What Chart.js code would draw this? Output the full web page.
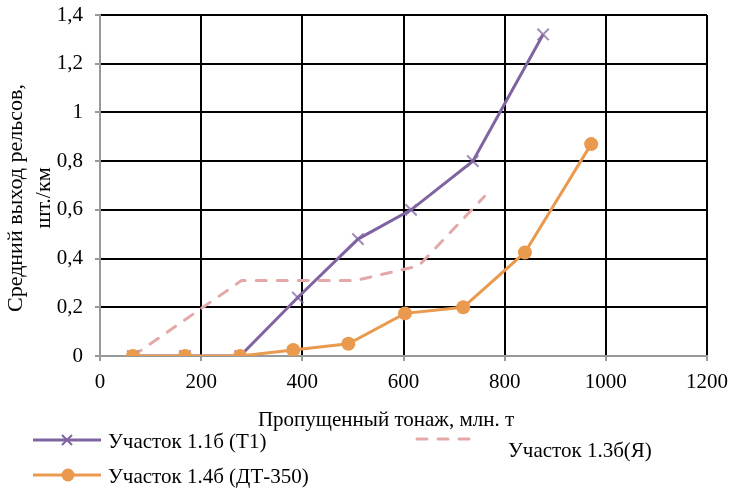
<!DOCTYPE html>
<html>
<head>
<meta charset="utf-8">
<script src="https://cdn.jsdelivr.net/npm/chart.js@4/dist/chart.umd.min.js"></script>
<style>
  body { margin: 0; background: #fff; }
  #wrap { width: 730px; height: 488px; position: relative; }
</style>
</head>
<body>
<div id="wrap"><canvas id="chart" width="730" height="488"></canvas></div>
<script>
// Участок 1.1б (Т1)
const t1X = [65, 168, 277, 391, 510, 615, 737, 876];
const t1Y = [0, 0, 0, 0.24, 0.48, 0.6, 0.8, 1.32];
// Участок 1.4б (ДТ-350)
const dtX = [65, 168, 277, 382, 491, 603, 718, 840, 971];
const dtY = [0, 0, 0, 0.025, 0.05, 0.175, 0.2, 0.425, 0.87];
// Участок 1.3б(Я)
const yaX = [65, 280, 505, 630, 760];
const yaY = [0, 0.31, 0.31, 0.37, 0.655];

const xTicks = [0, 200, 400, 600, 800, 1000, 1200];
const yTicks = [0, 0.2, 0.4, 0.6, 0.8, 1, 1.2, 1.4];

const names = ["Участок 1.1б (Т1)", "Участок 1.4б (ДТ-350)", "Участок 1.3б(Я)"];
const xTitle = "Пропущенный тонаж, млн. т";
const yTitle = ["Средний выход рельсов,", "шт./км"];

const PURPLE = "#8064a2";
const ORANGE = "#e99a4e";
const PINK = "#e3a9a8";
const FAMILY = "'Liberation Serif', 'Times New Roman', serif";
const FONT = "21px " + FAMILY;

const toPts = (xs, ys) => xs.map((x, i) => ({ x: x, y: ys[i] }));

// titles and the odd legend layout are drawn by hand
const extras = {
  id: "extras",
  afterDraw(chart) {
    const ctx = chart.ctx;
    ctx.save();
    ctx.fillStyle = "#000";
    ctx.font = FONT;
    ctx.textBaseline = "middle";

    ctx.textAlign = "center";
    ctx.fillText(xTitle, 386, 420);

    ctx.save();
    ctx.translate(16, 198);
    ctx.rotate(-Math.PI / 2);
    ctx.font = "22px " + FAMILY;
    ctx.fillText(yTitle[0], 0, 0);
    ctx.fillText(yTitle[1], 0, 28);
    ctx.restore();

    ctx.textAlign = "left";
    // purple
    ctx.lineWidth = 3;
    ctx.strokeStyle = PURPLE;
    ctx.beginPath(); ctx.moveTo(33, 440); ctx.lineTo(101, 440); ctx.stroke();
    ctx.lineWidth = 2;
    ctx.beginPath();
    ctx.moveTo(62, 435); ctx.lineTo(72, 445);
    ctx.moveTo(72, 435); ctx.lineTo(62, 445);
    ctx.stroke();
    ctx.fillText(names[0], 108, 442);
    // orange
    ctx.lineWidth = 3;
    ctx.strokeStyle = ORANGE;
    ctx.fillStyle = ORANGE;
    ctx.beginPath(); ctx.moveTo(33, 475); ctx.lineTo(101, 475); ctx.stroke();
    ctx.beginPath(); ctx.arc(68, 475, 6.5, 0, Math.PI * 2); ctx.fill();
    ctx.fillStyle = "#000";
    ctx.fillText(names[1], 108, 477);
    // pink dashed
    ctx.strokeStyle = PINK;
    ctx.lineCap = "round";
    ctx.setLineDash([10, 11]);
    ctx.beginPath(); ctx.moveTo(417, 439); ctx.lineTo(475, 439); ctx.stroke();
    ctx.setLineDash([]);
    ctx.fillText(names[2], 508, 451);
    ctx.restore();
  }
};

new Chart(document.getElementById("chart"), {
  type: "line",
  data: {
    datasets: [
      {
        label: names[1],
        data: toPts(dtX, dtY),
        borderColor: ORANGE,
        backgroundColor: ORANGE,
        borderWidth: 3,
        pointRadius: 7,
        pointBorderWidth: 0,
        pointBackgroundColor: ORANGE,
        order: 0,
      },
      {
        label: names[0],
        data: toPts(t1X, t1Y),
        borderColor: PURPLE,
        backgroundColor: PURPLE,
        borderWidth: 3,
        pointStyle: "crossRot",
        pointRadius: 8,
        pointBorderWidth: 2,
        pointBorderColor: "rgba(128,100,162,0.75)",
        order: 1,
      },
      {
        label: names[2],
        data: toPts(yaX, yaY),
        borderColor: PINK,
        borderWidth: 3,
        borderDash: [10, 11],
        borderCapStyle: "round",
        pointRadius: 0,
        order: 2,
      },
    ],
  },
  options: {
    responsive: false,
    animation: false,
    events: [],
    layout: { padding: { top: 15, right: 23, left: 0, bottom: 0 } },
    plugins: {
      legend: { display: false },
      tooltip: { enabled: false },
    },
    scales: {
      x: {
        type: "linear",
        min: 0,
        max: 1200,
        afterBuildTicks(scale) { scale.ticks = xTicks.map(v => ({ value: v })); },
        afterFit(scale) {
          scale.height = 132;
          scale.paddingLeft = 0;
          scale.paddingRight = 0;
        },
        grid: { color: "#000", lineWidth: 2, tickColor: "#999", tickLength: 5 },
        border: { color: "#999", width: 2 },
        ticks: {
          color: "#000",
          font: { family: FAMILY, size: 21 },
          padding: 9,
          maxRotation: 0,
          callback: v => String(v),
        },
      },
      y: {
        type: "linear",
        min: 0,
        max: 1.4,
        afterBuildTicks(scale) { scale.ticks = yTicks.map(v => ({ value: v })); },
        afterFit(scale) {
          scale.width = 100;
          scale.paddingTop = 0;
          scale.paddingBottom = 0;
        },
        grid: { color: "#000", lineWidth: 2, tickColor: "#999", tickLength: 5 },
        border: { color: "#999", width: 2 },
        ticks: {
          color: "#000",
          font: { family: FAMILY, size: 21 },
          padding: 12,
          callback: v => String(Math.round(v * 10) / 10).replace(".", ","),
        },
      },
    },
  },
  plugins: [extras],
});
</script>
</body>
</html>
